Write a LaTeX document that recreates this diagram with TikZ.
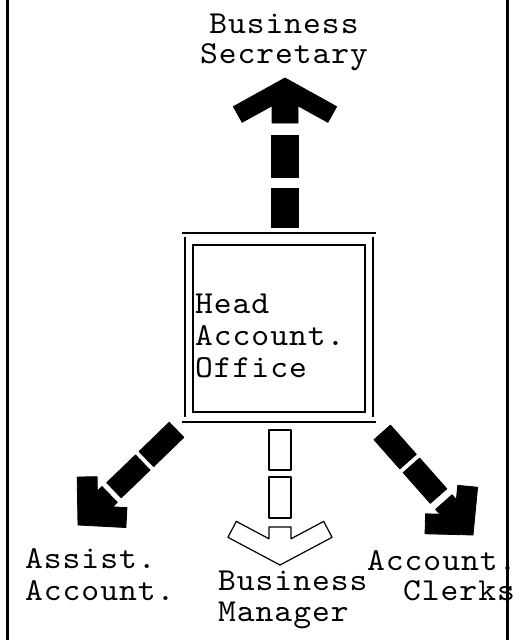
\documentclass[tikz,border=0pt]{standalone}
\usepackage{fontspec}
\setmonofont{lmmono10-regular.otf}[FakeStretch=1.06, LetterSpace=3]
\newcommand{\typefont}{\ttfamily\fontsize{32}{32}\selectfont}
\begin{document}
\begin{tikzpicture}[x=1pt,y=-1pt,
  lbl/.style={font=\typefont, inner sep=0pt, anchor=base west},
  clbl/.style={font=\typefont, inner sep=0pt, anchor=base},
  solidarrow/.style={fill=black, draw=black, line width=0.8pt, line join=round},
  openarrow/.style={fill=white, draw=black, line width=1.2pt, line join=round},
  frameline/.style={line width=3pt},
  outerline/.style={line width=2.5pt},
  innerbox/.style={draw, line width=1.8pt, minimum width=172pt, minimum height=167pt, inner sep=0pt}]
\useasboundingbox (0,0) rectangle (526,640);

% side frame lines
\draw[frameline] (7,0) -- (7,640);
\draw[frameline] (507,0) -- (507,640);

% central office box
\node[innerbox] (office) at (279,328.5) {};
\coordinate (otl) at (185,233);
\coordinate (otr) at (373,233);
\coordinate (obl) at (185,422);
\coordinate (obr) at (373,422);
\draw[outerline] ([xshift=-3pt]otl) -- ([xshift=3pt]otr);
\draw[outerline] ([xshift=-3pt]obl) -- ([xshift=3pt]obr);
\draw[outerline] ([yshift=-4pt]otl) -- ([yshift=5pt]obl);
\draw[outerline] ([yshift=-4pt]otr) -- ([yshift=5pt]obr);

\node[lbl] (t1) at (195,313) {Head};
\node[lbl] (t2) at (195,345) {Account.};
\node[lbl] (t3) at (195,377) {Office};

% labels
\node[clbl] (bs1) at (284,33) {Business};
\node[clbl] (bs2) at (284,63) {Secretary};
\node[lbl] (aa1) at (25,568) {Assist.};
\node[lbl] (aa2) at (25,600) {Account.};
\node[lbl] (bm1) at (218,590) {Business};
\node[lbl] (bm2) at (218,621) {Manager};
\node[lbl] (ac1) at (367,570) {Account.};
\node[lbl] (ac2) at (403,600) {Clerks};

% arrow tips
\coordinate (tipU) at (285,78);
\coordinate (tipD) at (280,565);
\coordinate (tipL) at (78,525);
\coordinate (tipR) at (473,535);

% up arrow (to Business Secretary)
\begin{scope}[shift={(tipU)}, rotate=-90]
  \draw[solidarrow] (0,0) -- (28.6,51.6) -- (44.3,42.9) -- (27.8,13) -- (45,13) -- (45,-13) -- (27.8,-13) -- (44.3,-42.9) -- (28.6,-51.6) -- cycle;
  \draw[solidarrow] (57,-13.5) rectangle (99,13.5);
  \draw[solidarrow] (110,-13.5) rectangle (149,13.5);
\end{scope}

% down arrow (to Business Manager), outlined
\begin{scope}[shift={(tipD)}, rotate=90]
  \draw[openarrow] (0,0) -- (27.7,52.1) -- (43.6,43.7) -- (26.2,11) -- (38,11) -- (38,-11) -- (26.2,-11) -- (43.6,-43.7) -- (27.7,-52.1) -- cycle;
  \draw[openarrow] (47,-11) rectangle (88,11);
  \draw[openarrow] (95,-11) rectangle (135,11);
\end{scope}

% down-left arrow (to Assist. Account.)
\begin{scope}[shift={(tipL)}, rotate=44]
  \draw[solidarrow] (0,0) -- (32.7,35.1) -- (47.3,21.5) -- (37.5,11) -- (44,11) -- (44,-11) -- (37.5,-11) -- (47.3,-21.5) -- (32.7,-35.1) -- cycle;
  \draw[solidarrow] (50,-10.5) rectangle (90,10.5);
  \draw[solidarrow] (95,-10.5) rectangle (137,10.5);
\end{scope}

% down-right arrow (to Account Clerks)
\begin{scope}[shift={(tipR)}, rotate=131.5]
  \draw[solidarrow] (0,0) -- (32.7,35.1) -- (47.3,21.5) -- (37.5,11) -- (44,11) -- (44,-11) -- (37.5,-11) -- (47.3,-21.5) -- (32.7,-35.1) -- cycle;
  \draw[solidarrow] (52,-11) rectangle (93,11);
  \draw[solidarrow] (98,-11) rectangle (137,11);
\end{scope}
\end{tikzpicture}
\end{document}
